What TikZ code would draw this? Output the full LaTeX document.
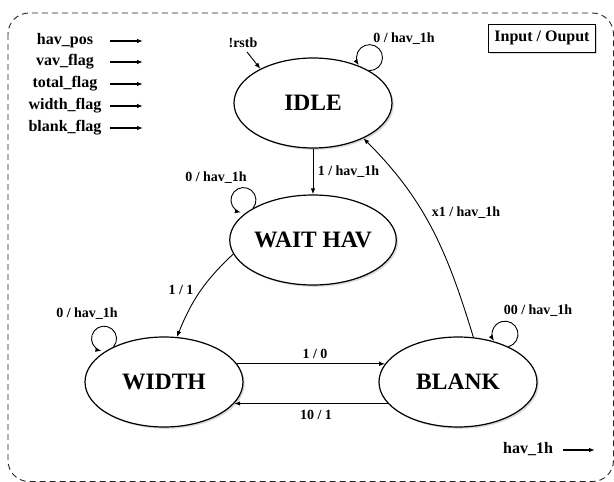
\documentclass[tikz,border=0pt]{standalone}
\usepackage{fontspec}
\setmainfont{Liberation Serif}
\usetikzlibrary{arrows.meta,shapes.geometric,shadows}
\begin{document}
\begin{tikzpicture}[x=1pt,y=1pt,
  state/.style={ellipse, draw, line width=1.2pt, fill=white, minimum width=158pt, minimum height=90pt, inner sep=0pt,
    font=\fontsize{23.5}{26}\selectfont\bfseries,
    drop shadow={shadow xshift=1.8pt, shadow yshift=-1.8pt, opacity=0.3}},
  lbl/.style={font=\fontsize{14}{16}\selectfont\bfseries, inner sep=0pt},
  io/.style={font=\fontsize{16}{18}\selectfont\bfseries, inner sep=0pt, text height=11pt, text depth=3.5pt},
  tr/.style={-{Latex[length=6pt,width=4.5pt]}, line width=0.9pt},
]
\useasboundingbox (0,0) rectangle (614,-482);
\draw[black!85, dash pattern=on 6pt off 4pt, line width=0.9pt, rounded corners=21pt] (8,-13) rectangle (613.5,-481.5);

% states
\node[state] (idle) at (313,-103) {IDLE};
\node[state] (wait) at (313,-240) {WAIT HAV};
\node[state] (width) at (164,-382) {WIDTH};
\node[state] (blank) at (458,-382) {BLANK};

% transitions
\draw[tr] (idle.south) -- (wait.north);
\draw[tr] (blank.71) to[out=107,in=-45] (idle.-35);
\draw[tr] (wait.190) to[out=223,in=68] (width.74);
\draw[tr] (width.14) -- (blank.166);
\draw[tr] (blank.197) -- (width.-17);

% self loops
\draw[tr] (idle.30) arc[start angle=-92, end angle=215, radius=13];
\draw[tr] (wait.152) arc[start angle=-40, end angle=258, radius=12.5];
\draw[tr] (width.145) arc[start angle=-40, end angle=258, radius=12.5];
\draw[tr] (blank.35) arc[start angle=-75, end angle=212, radius=13];

% reset
\node[lbl] (rstb) at (243,-43) {!rstb};
\coordinate (rstbs) at (247,-52);
\draw[tr] (rstbs) -- (idle.147);

% labels
\node[lbl] (l1) at (348.5,-172) {1 / hav\_1h};
\node[lbl] (l2) at (466,-213) {x1 / hav\_1h};
\node[lbl] (l3) at (181,-290) {1 / 1};
\node[lbl] (l4) at (315,-354) {1 / 0};
\node[lbl] (l5) at (316,-415) {10 / 1};
\node[lbl] (l6) at (404,-39) {0 / hav\_1h};
\node[lbl] (l7) at (216,-178) {0 / hav\_1h};
\node[lbl] (l8) at (87,-314) {0 / hav\_1h};
\node[lbl] (l9) at (538,-311) {00 / hav\_1h};

% inputs
\foreach \t/\y [count=\i] in {hav\_pos/41, vav\_flag/62, total\_flag/84, width\_flag/106, blank\_flag/128} {
  \node[io] (in\i) at (65,-\y) {\t};
  \coordinate (ia\i) at (110,-\y);
  \coordinate (ib\i) at (143,-\y);
  \draw[tr, line width=1.1pt] (ia\i) -- (ib\i);
}

% output
\node[io] (out) at (528,-450) {hav\_1h};
\coordinate (oa) at (563,-450);
\coordinate (ob) at (595,-450);
\draw[tr, line width=1.1pt] (oa) -- (ob);

% legend box
\node[io, draw, line width=1pt, fill=white, minimum width=107pt, minimum height=28pt,
  drop shadow={shadow xshift=1.5pt, shadow yshift=-1.5pt, opacity=0.3}] (iobox) at (542,-38) {Input / Ouput};
\end{tikzpicture}
\end{document}
